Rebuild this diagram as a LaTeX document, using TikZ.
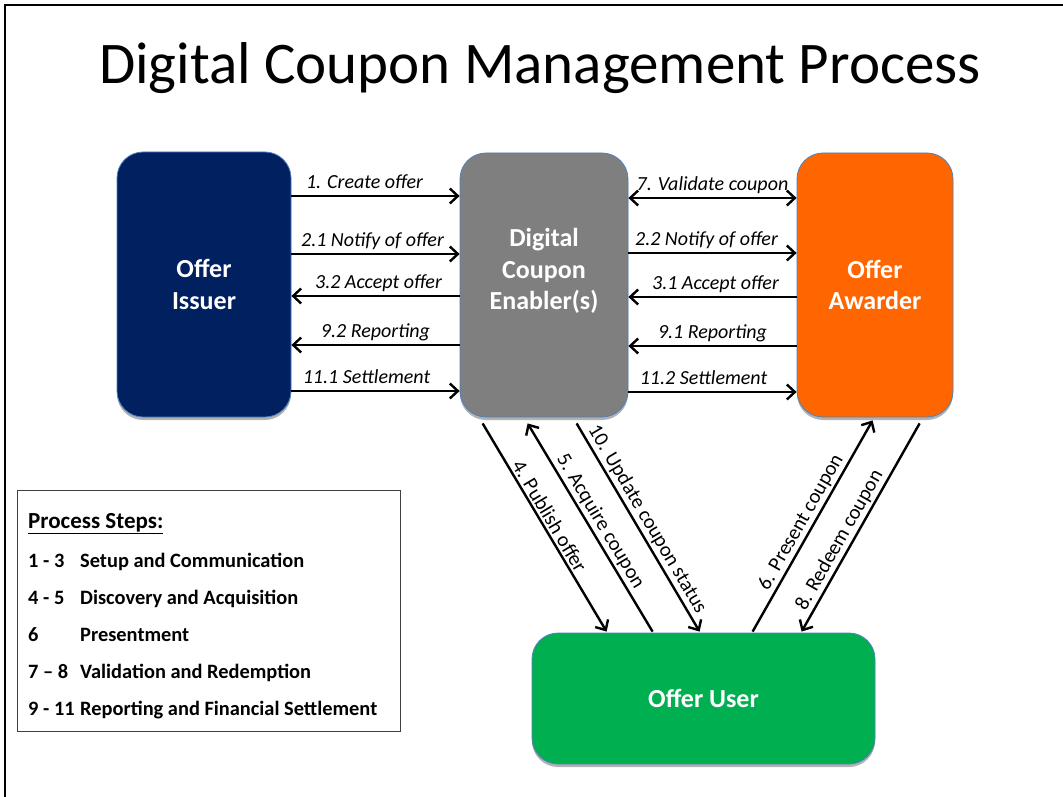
\documentclass[tikz,border=0pt]{standalone}
\usepackage{fontspec}
\setmainfont{Carlito}
\usetikzlibrary{arrows.meta,shadows,calc}
\definecolor{navybox}{HTML}{002060}
\definecolor{graybox}{HTML}{7F7F7F}
\definecolor{orangebox}{HTML}{FF6600}
\definecolor{greenbox}{HTML}{00B050}
\definecolor{boxline}{HTML}{4F81BD}
\definecolor{legendline}{HTML}{404040}
\begin{document}
\begin{tikzpicture}[x=1pt,y=-1pt,
  >={Straight Barb[length=8pt,width=15pt]},
  box/.style={draw=boxline, line width=0.8pt, rounded corners=26pt, inner sep=0pt,
    text=white, align=center, font=\bfseries\fontsize{26}{31.5}\selectfont,
    drop shadow={shadow xshift=0pt, shadow yshift=-3pt, opacity=0.3, fill=black}},
  boxtext/.style={text=white, align=center, font=\bfseries\fontsize{26}{31.5}\selectfont},
  arr/.style={line width=2.4pt},
  lab/.style={font=\itshape\fontsize{20}{24}\selectfont, anchor=base, yshift=8pt, inner sep=0pt},
  dlab/.style={font=\fontsize{20.5}{24}\selectfont, sloped, above, inner sep=2pt},
  leg/.style={font=\bfseries\fontsize{20.4}{24}\selectfont, anchor=base west, inner sep=0pt}
]
\useasboundingbox (0,0) rectangle (1063,797);
\fill[white] (0,0) rectangle (1063,797);
\draw[line width=2pt] (5,797) -- (5,5) -- (1063,5);

\node[font=\fontsize{59}{70}\selectfont] (title) at (540,68) {Digital Coupon Management Process};

\node[box, fill=navybox, minimum width=174pt, minimum height=265pt] (issuer) at (204,284.5) {Offer\\Issuer};
\node[box, fill=graybox, minimum width=168pt, minimum height=264pt] (dce) at (544,285) {};
\node[boxtext] (dcetext) at (544,271) {Digital\\Coupon\\Enabler(s)};
\node[box, fill=orangebox, minimum width=156pt, minimum height=264pt] (awarder) at (875,285) {Offer\\Awarder};
\node[box, fill=greenbox, minimum width=343pt, minimum height=131pt] (user) at (703.5,698.5) {Offer User};

% left horizontal arrows
\draw[arr,->] (issuer.east |- 0,196) -- node[lab, xshift=-11pt] {1. Create offer} (dce.west |- 0,196);
\draw[arr,->] (issuer.east |- 0,254) -- node[lab, xshift=-3pt] {2.1 Notify of offer} (dce.west |- 0,254);
\draw[arr,->] (dce.west |- 0,296) -- node[lab, xshift=3pt] {3.2 Accept offer} (issuer.east |- 0,296);
\draw[arr,->] (dce.west |- 0,345) -- node[lab] {9.2 Reporting} (issuer.east |- 0,345);
\draw[arr,->] (issuer.east |- 0,391) -- node[lab, xshift=-9pt] {11.1 Settlement} (dce.west |- 0,391);

% right horizontal arrows
\draw[arr,<->] (dce.east |- 0,198) -- node[lab] {7. Validate coupon} (awarder.west |- 0,198);
\draw[arr,->] (dce.east |- 0,253) -- node[lab, xshift=-6pt] {2.2 Notify of offer} (awarder.west |- 0,253);
\draw[arr,->] (awarder.west |- 0,297) -- node[lab, xshift=3pt] {3.1 Accept offer} (dce.east |- 0,297);
\draw[arr,->] (awarder.west |- 0,346) -- node[lab] {9.1 Reporting} (dce.east |- 0,346);
\draw[arr,->] (dce.east |- 0,392) -- node[lab, xshift=-9pt] {11.2 Settlement} (awarder.west |- 0,392);

% diagonal arrows
\draw[arr,->] ([xshift=23pt,yshift=-6pt]dce.south west) -- node[dlab,pos=0.47] {4. Publish offer} ([xshift=75pt,yshift=1pt]user.north west);
\draw[arr,<-] ([xshift=68pt,yshift=-6pt]dce.south west) -- node[dlab,pos=0.5] {5. Acquire coupon} ([xshift=121pt,yshift=1pt]user.north west);
\draw[arr,->] ([xshift=117pt,yshift=-6pt]dce.south west) -- node[dlab,pos=0.49] {10. Update coupon status} ([xshift=168pt,yshift=1pt]user.north west);
\draw[arr,->] ([xshift=221pt,yshift=1pt]user.north west) -- node[dlab,pos=0.49] {6. Present coupon} ([xshift=76pt,yshift=-3pt]awarder.south west);
\draw[arr,<-] ([xshift=270pt,yshift=1pt]user.north west) -- node[dlab,pos=0.41] {8. Redeem coupon} ([xshift=123pt,yshift=-6pt]awarder.south west);

% legend
\node[draw=legendline, line width=1.2pt, minimum width=383pt, minimum height=241pt, anchor=north west, inner sep=0pt] (legend) at (17,490) {};
\node[leg, font=\bfseries\fontsize{23}{26}\selectfont] (lhead) at (28,528) {\underline{Process Steps:}};
\node[leg] (l1n) at (28,567.5) {1 - 3};
\node[leg] (l1t) at (80,567.5) {Setup and Communication};
\node[leg] (l2n) at (28,604.5) {4 - 5};
\node[leg] (l2t) at (80,604.5) {Discovery and Acquisition};
\node[leg] (l3n) at (28,641.5) {6};
\node[leg] (l3t) at (80,641.5) {Presentment};
\node[leg] (l4n) at (28,678.5) {7 -- 8};
\node[leg] (l4t) at (80,678.5) {Validation and Redemption};
\node[leg] (l5n) at (28,715.5) {9 - 11};
\node[leg] (l5t) at (80,715.5) {Reporting and Financial Settlement};
\end{tikzpicture}
\end{document}
